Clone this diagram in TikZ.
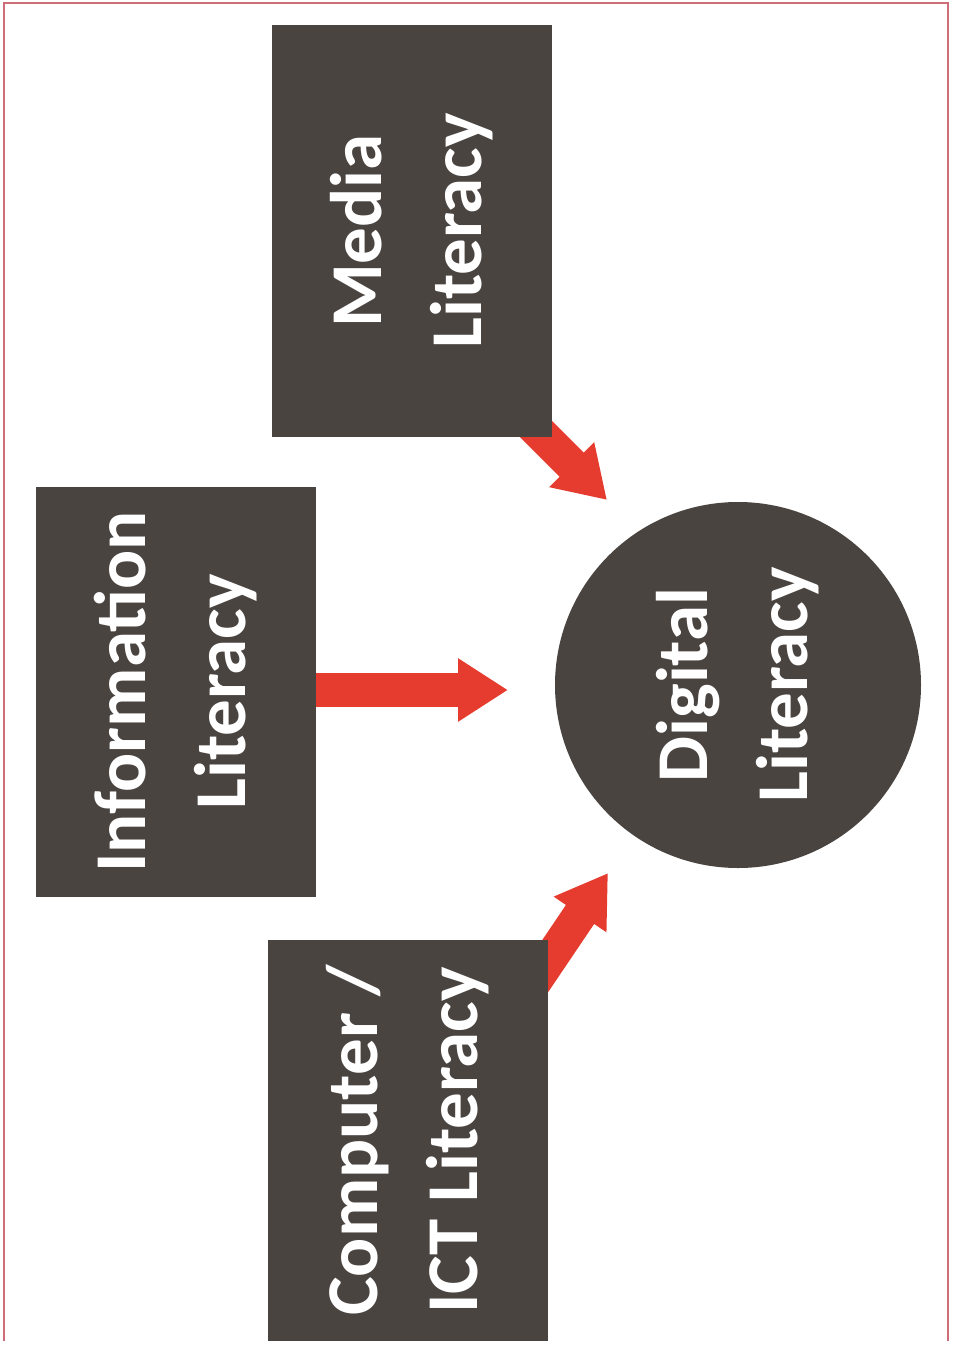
\documentclass[tikz,border=0pt]{standalone}
\usepackage{fontspec}
\setmainfont{Carlito}
\usetikzlibrary{arrows.meta,backgrounds}
\definecolor{boxc}{RGB}{74,68,65}
\definecolor{arrc}{RGB}{230,60,48}
\definecolor{framec}{RGB}{205,110,120}
\begin{document}
\begin{tikzpicture}[x=1pt,y=-1pt,
  lit/.style={fill=boxc, draw=none, rotate=90, text=white,
    font=\bfseries\fontsize{73}{100}\selectfont, align=center, inner sep=0pt},
  fat/.style={arrc, line width=34pt, -{Triangle[length=50pt,width=60pt]}}]
\useasboundingbox (0,0) rectangle (954,1348);
\draw[framec, line width=1.5pt] (4,1341) -- (4,3) -- (948,3) -- (948,1341);
\node[lit, rectangle, minimum width=412pt, minimum height=280pt] (media) at (412,231) {Media\\Literacy};
\node[lit, rectangle, minimum width=410pt, minimum height=280pt] (info) at (176,692) {Information\\Literacy};
\node[lit, rectangle, minimum width=401pt, minimum height=280pt] (comp) at (408,1140.5) {Computer /\\ICT Literacy};
\node[lit, circle, minimum size=366pt] (dig) at (738,685) {Digital\\Literacy};
\coordinate (mstart) at (466,359);
\coordinate (mtip) at (607,500);
\coordinate (istart) at (300,690);
\coordinate (itip) at (508,690);
\coordinate (cstart) at (496,1039);
\coordinate (ctip) at (608,873);
\begin{scope}[on background layer]
\draw[fat] (mstart) -- (mtip);
\draw[fat] (istart) -- (itip);
\draw[fat] (cstart) -- (ctip);
\end{scope}
\end{tikzpicture}
\end{document}
